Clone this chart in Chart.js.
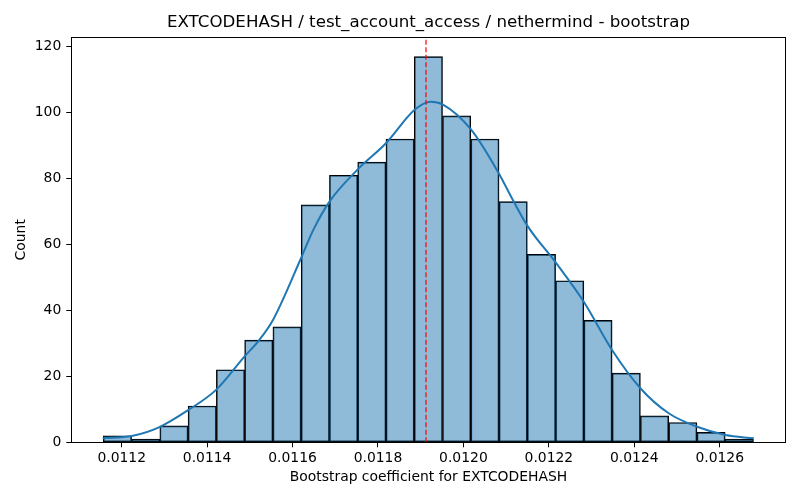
<!DOCTYPE html>
<html>
<head>
<meta charset="utf-8">
<script src="https://cdn.jsdelivr.net/npm/chart.js@4/dist/chart.umd.min.js"></script>
<style>
  html, body { margin: 0; padding: 0; background: #fff; }
  #wrap { width: 800px; height: 500px; }
</style>
</head>
<body>
<div id="wrap"><canvas id="c" width="800" height="500"></canvas></div>
<script>
// ---- data ----
const titleText = "EXTCODEHASH / test_account_access / nethermind - bootstrap";
const xLabel = "Bootstrap coefficient for EXTCODEHASH";
const yLabel = "Count";
const binStart = 0.0111569;
const binWidth = 0.00006618;
const counts = [2, 1, 5, 11, 22, 31, 35, 72, 81, 85, 92, 117, 99, 92, 73, 57, 49, 37, 21, 8, 6, 3, 1];
const kdeX = [0.0111555, 0.0112234, 0.0112897, 0.0113560, 0.0114209, 0.0114872, 0.0115224, 0.0115545,
              0.0116200, 0.0116489, 0.0116864, 0.0117520, 0.0118192, 0.0118871, 0.0119239, 0.0119511,
              0.0120176, 0.0120823, 0.0121174, 0.0121507, 0.0122168, 0.0122814, 0.0123480, 0.0124143,
              0.0124806, 0.0125471, 0.0126134, 0.0126797];
const kdeY = [1.2, 1.9, 4.7, 9.8, 15.9, 26.0, 31.1, 37.2,
              55.9, 64.5, 73.0, 82.7, 90.8, 101.0, 103.3, 102.5,
              94.9, 81.7, 73.1, 65.5, 54.4, 42.7, 28.0, 16.4,
              8.8, 4.7, 2.2, 1.2];
const meanValue = 0.0119124;
const xTicks = [0.0112, 0.0114, 0.0116, 0.0118, 0.0120, 0.0122, 0.0124, 0.0126];
const yTicks = [0, 20, 40, 60, 80, 100, 120];
const xMin = 0.0110820, xMax = 0.0127545;
const yMax = 122.85;

// ---- build ----
const barData = counts.map((c, i) => ({ x: binStart + binWidth * (i + 0.5), y: c }));
const kdeData = kdeX.map((x, i) => ({ x: x, y: kdeY[i] }));
const meanData = [{ x: meanValue, y: 0 }, { x: meanValue, y: yMax }];

const FONT = "'DejaVu Sans', sans-serif";
Chart.defaults.font.family = FONT;
Chart.defaults.color = '#000';

const frame = {
  id: 'frame',
  afterDatasetsDraw(chart) {
    const a = chart.chartArea, ctx = chart.ctx;
    ctx.save();
    ctx.strokeStyle = '#000';
    ctx.lineWidth = 1;
    ctx.strokeRect(Math.round(a.left) + 0.5, Math.round(a.top) + 0.5,
                   Math.round(a.right - a.left), Math.round(a.bottom - a.top));
    ctx.restore();
  }
};

new Chart(document.getElementById('c'), {
  type: 'bar',
  data: {
    datasets: [
      {
        type: 'bar', data: barData, order: 3,
        backgroundColor: 'rgba(31,119,180,0.5)', borderColor: '#000', borderWidth: 1,
        barPercentage: 1, categoryPercentage: 1, borderSkipped: false
      },
      {
        type: 'line', data: kdeData, order: 2,
        borderColor: '#1f77b4', borderWidth: 2, pointRadius: 0,
        cubicInterpolationMode: 'monotone', fill: false
      },
      {
        type: 'line', data: meanData, order: 1,
        borderColor: '#ff0000', borderWidth: 1.2, borderDash: [5, 2.5], pointRadius: 0, fill: false
      }
    ]
  },
  options: {
    responsive: false,
    animation: false,
    devicePixelRatio: 1,
    layout: { padding: { left: 0, right: 14.3, top: 0, bottom: 0 } },
    plugins: {
      legend: { display: false },
      tooltip: { enabled: false },
      title: {
        display: true, text: titleText, color: '#000', fullSize: false,
        font: { family: FONT, size: 16.67, weight: 'normal', lineHeight: 1.2 },
        padding: { top: 13, bottom: 4.3 }
      }
    },
    scales: {
      x: {
        type: 'linear', min: xMin, max: xMax, offset: false,
        afterBuildTicks: (s) => { s.ticks = xTicks.map(v => ({ value: v })); },
        afterFit: (s) => { s.height = 57.7; },
        ticks: {
          font: { family: FONT, size: 13.9 }, color: '#000', padding: 3,
          maxRotation: 0, autoSkip: false,
          callback: (v) => Number(v).toFixed(4)
        },
        grid: { display: true, offset: false, drawOnChartArea: false, drawTicks: true, tickLength: 5, color: '#000' },
        border: { display: true, color: '#000', width: 1 },
        title: {
          display: true, text: xLabel, color: '#000',
          font: { family: FONT, size: 13.9 }, padding: { top: 0, bottom: 14.6 }
        }
      },
      y: {
        type: 'linear', min: 0, max: yMax,
        afterBuildTicks: (s) => { s.ticks = yTicks.map(v => ({ value: v })); },
        afterFit: (s) => { s.width = 71.3; },
        ticks: { font: { family: FONT, size: 13.9 }, color: '#000', padding: 5, autoSkip: false },
        grid: { display: true, offset: false, drawOnChartArea: false, drawTicks: true, tickLength: 5, color: '#000' },
        border: { display: true, color: '#000', width: 1 },
        title: {
          display: true, text: yLabel, color: '#000',
          font: { family: FONT, size: 13.9 }, padding: { top: 13, bottom: 0 }
        }
      }
    }
  },
  plugins: [frame]
});
</script>
</body>
</html>
